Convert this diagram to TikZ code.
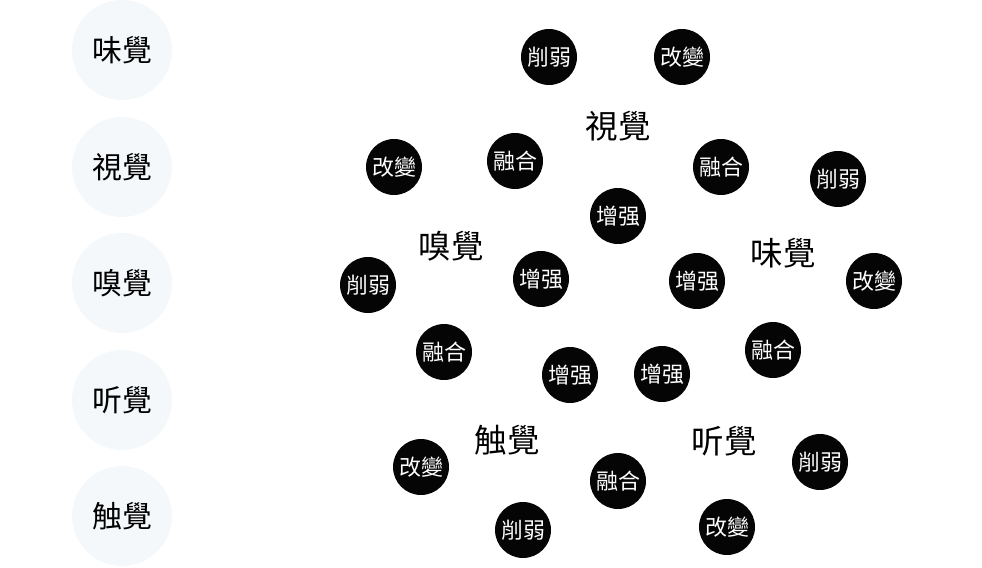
\documentclass[tikz,border=0pt]{standalone}
\usepackage{fontspec}
\newfontfamily\cjk{Noto Sans CJK TC}
\definecolor{mist}{HTML}{F4F8FA}
\definecolor{ink}{HTML}{050505}

\begin{document}
\begin{tikzpicture}[x=0.02cm, y=-0.02cm,
  sense/.style={circle, fill=mist, minimum size=2cm, inner sep=0pt, font=\cjk\fontsize{17}{17}\selectfont},
  effect/.style={circle, fill=ink, text=white, minimum size=1.12cm, inner sep=0pt, font=\cjk\fontsize{12.5}{12.5}\selectfont},
  hub/.style={font=\cjk\fontsize{18.5}{18.5}\selectfont}]

% Canvas
\useasboundingbox (0,0) rectangle (982,567);

%% Left column: the five senses
\node[sense] (wei)   at (122,50)  {味覺};
\node[sense] (shi)   at (122,167) {視覺};
\node[sense] (xiu)   at (122,283) {嗅覺};
\node[sense] (ting)  at (122,400) {听覺};
\node[sense] (chu)   at (122,516) {触覺};

%% Right: sense labels
\node[hub] (shiL)  at (618,126) {視覺};
\node[hub] (xiuL)  at (451,246) {嗅覺};
\node[hub] (weiL)  at (783,253) {味覺};
\node[hub] (chuL)  at (507,440) {触覺};
\node[hub] (tingL) at (724,441) {听覺};

%% Effects
\node[effect] (e1)  at (549,57)  {削弱};
\node[effect] (e2)  at (682,57)  {改變};
\node[effect] (e3)  at (394,167) {改變};
\node[effect] (e4)  at (515,161) {融合};
\node[effect] (e5)  at (721,167) {融合};
\node[effect] (e6)  at (838,179) {削弱};
\node[effect] (e7)  at (618,216) {增强};
\node[effect] (e8)  at (368,285) {削弱};
\node[effect] (e9)  at (541,279) {增强};
\node[effect] (e10) at (697,281) {增强};
\node[effect] (e11) at (874,281) {改變};
\node[effect] (e12) at (444,352) {融合};
\node[effect] (e13) at (773,350) {融合};
\node[effect] (e14) at (570,375) {增强};
\node[effect] (e15) at (662,374) {增强};
\node[effect] (e16) at (421,467) {改變};
\node[effect] (e17) at (618,481) {融合};
\node[effect] (e18) at (820,462) {削弱};
\node[effect] (e19) at (523,530) {削弱};
\node[effect] (e20) at (727,527) {改變};

\end{tikzpicture}
\end{document}
